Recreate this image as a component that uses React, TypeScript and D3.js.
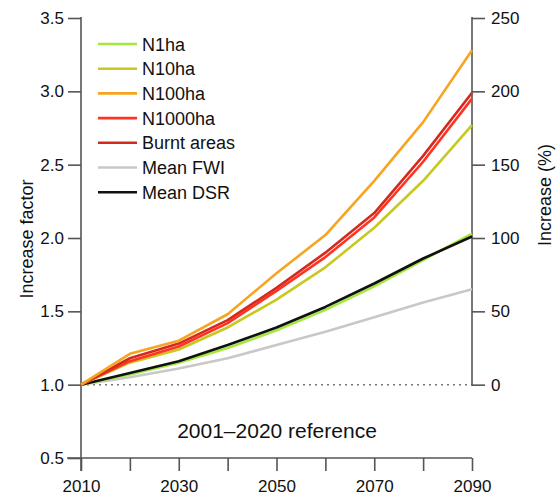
import React, { useEffect, useRef } from 'react';
import * as d3 from 'd3';

const years = [2010, 2020, 2030, 2040, 2050, 2060, 2070, 2080, 2090];

const n1ha = [1.0, 1.07, 1.15, 1.25, 1.37, 1.51, 1.67, 1.85, 2.03];
const n10ha = [1.0, 1.15, 1.24, 1.39, 1.58, 1.8, 2.07, 2.39, 2.77];
const n100ha = [1.0, 1.21, 1.3, 1.48, 1.76, 2.02, 2.39, 2.79, 3.28];
const n1000ha = [1.0, 1.16, 1.26, 1.42, 1.64, 1.87, 2.14, 2.52, 2.95];
const burnt = [1.0, 1.18, 1.28, 1.44, 1.66, 1.9, 2.17, 2.56, 2.99];
const meanFwi = [1.0, 1.05, 1.11, 1.18, 1.27, 1.36, 1.46, 1.56, 1.65];
const meanDsr = [1.0, 1.08, 1.16, 1.27, 1.39, 1.53, 1.69, 1.86, 2.01];

const leftTicks = [0.5, 1.0, 1.5, 2.0, 2.5, 3.0, 3.5];
const rightTicks = [0, 50, 100, 150, 200, 250];
const xLabels = [2010, 2030, 2050, 2070, 2090];

const series = [
  { name: 'N1ha', values: n1ha, color: '#a4e83c' },
  { name: 'N10ha', values: n10ha, color: '#c8c81e' },
  { name: 'N100ha', values: n100ha, color: '#f7a520' },
  { name: 'N1000ha', values: n1000ha, color: '#ff3320' },
  { name: 'Burnt areas', values: burnt, color: '#d42a1e' },
  { name: 'Mean FWI', values: meanFwi, color: '#c8c8c8' },
  { name: 'Mean DSR', values: meanDsr, color: '#111111' },
];

// drawing order (bottom to top)
const drawOrder = ['Mean FWI', 'N1ha', 'Mean DSR', 'N10ha', 'N1000ha', 'Burnt areas', 'N100ha'];

const W = 556;
const H = 498;

const App: React.FC = () => {
  const ref = useRef<SVGSVGElement | null>(null);

  useEffect(() => {
    if (!ref.current) return;
    const svg = d3.select(ref.current);
    svg.selectAll('*').remove();

    const left = 81;
    const right = 472;
    const top = 18;
    const bottom = 458;
    const font = 'Liberation Sans, Arial, Helvetica, sans-serif';
    const axisColor = '#555';

    const x = d3.scaleLinear().domain([2010, 2090]).range([left, right]);
    const y = d3.scaleLinear().domain([0.5, 3.5]).range([bottom, top]);
    const yPct = d3.scaleLinear().domain([0, 250]).range([y(1), y(3.5)]);

    // reference dotted line
    svg
      .append('line')
      .attr('x1', x(2010))
      .attr('x2', x(2090))
      .attr('y1', y(1))
      .attr('y2', y(1))
      .attr('stroke', '#777')
      .attr('stroke-width', 1.5)
      .attr('stroke-dasharray', '2,4');

    // left axis
    const gl = svg.append('g').attr('transform', `translate(${left},0)`);
    gl.call(
      d3
        .axisLeft(y)
        .tickValues(leftTicks)
        .tickSize(13)
        .tickPadding(4)
        .tickFormat((d) => d3.format('.1f')(d as number))
    );
    gl.select('.domain').remove();
    gl.append('line').attr('x1', 0).attr('x2', 0).attr('y1', top - 1).attr('y2', bottom + 13);

    // right axis
    const gr = svg.append('g').attr('transform', `translate(${right},0)`);
    gr.call(d3.axisRight(yPct).tickValues(rightTicks).tickSize(13).tickPadding(6));
    gr.select('.domain').remove();
    gr.append('line').attr('x1', 0).attr('x2', 0).attr('y1', top - 1).attr('y2', y(1) + 1);

    // bottom axis
    const gb = svg.append('g').attr('transform', `translate(0,${bottom})`);
    gb.call(
      d3
        .axisBottom(x)
        .tickValues(years)
        .tickSize(13)
        .tickPadding(9)
        .tickFormat((d) => (xLabels.includes(d as number) ? String(d) : ''))
    );
    gb.select('.domain').remove();
    gb.append('line').attr('x1', left - 14).attr('x2', right).attr('y1', 0).attr('y2', 0);

    [gl, gr, gb].forEach((g) => {
      g.selectAll('line').attr('stroke', axisColor).attr('stroke-width', 1.6);
      g.selectAll('text')
        .attr('fill', '#111')
        .style('font-family', font)
        .style('font-size', '17px');
    });

    // axis titles
    svg
      .append('text')
      .attr('transform', `translate(33,${(top + bottom) / 2 + 1}) rotate(-90)`)
      .attr('text-anchor', 'middle')
      .style('font-family', font)
      .style('font-size', '18px')
      .attr('fill', '#111')
      .text('Increase factor');

    svg
      .append('text')
      .attr('transform', `translate(551,195) rotate(-90)`)
      .attr('text-anchor', 'middle')
      .style('font-family', font)
      .style('font-size', '18px')
      .attr('fill', '#111')
      .text('Increase (%)');

    svg
      .append('text')
      .attr('x', 277)
      .attr('y', 438)
      .attr('text-anchor', 'middle')
      .style('font-family', font)
      .style('font-size', '21px')
      .attr('fill', '#111')
      .text('2001–2020 reference');

    // lines
    const line = d3
      .line<number>()
      .x((_, i) => x(years[i]))
      .y((d) => y(d));

    drawOrder.forEach((name) => {
      const s = series.find((d) => d.name === name)!;
      svg
        .append('path')
        .attr('d', line(s.values))
        .attr('fill', 'none')
        .attr('stroke', s.color)
        .attr('stroke-width', 2.6)
        .attr('stroke-linejoin', 'round');
    });

    // legend
    const lg = svg.append('g').attr('transform', 'translate(98,44)');
    series.forEach((s, i) => {
      const row = lg.append('g').attr('transform', `translate(0,${i * 24.7})`);
      row
        .append('line')
        .attr('x1', 0)
        .attr('x2', 39)
        .attr('stroke', s.color)
        .attr('stroke-width', 2.6);
      row
        .append('text')
        .attr('x', 44)
        .attr('y', 6.5)
        .style('font-family', font)
        .style('font-size', '18px')
        .attr('fill', '#111')
        .text(s.name);
    });
  }, []);

  return <svg ref={ref} width={W} height={H} style={{ position: 'absolute', left: 0, top: 0 }} />;
};

export default App;
